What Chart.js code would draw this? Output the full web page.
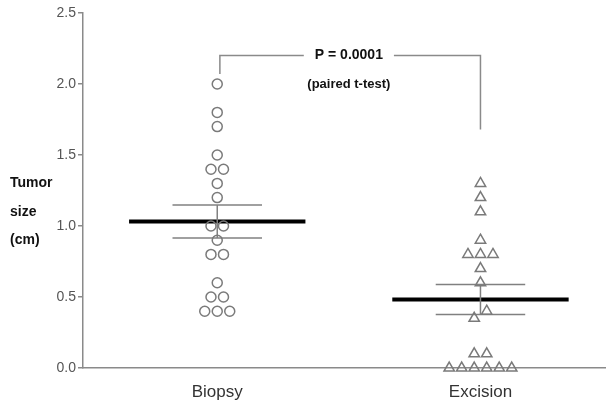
<!DOCTYPE html>
<html>
<head>
<meta charset="utf-8">
<script src="https://cdn.jsdelivr.net/npm/chart.js@4.4.1/dist/chart.umd.min.js"></script>
<style>
html, body { margin: 0; padding: 0; background: #fff; }
#wrap { width: 613px; height: 407px; }
</style>
</head>
<body>
<div id="wrap"><canvas id="tumorChart"></canvas></div>
<script>
// data
const groups = ['Biopsy', 'Excision'];
const groupPos = [1, 3];
const biopsy = [2.0, 1.8, 1.7, 1.5, 1.4, 1.4, 1.3, 1.2, 1.0, 1.0, 0.9, 0.8, 0.8, 0.6, 0.5, 0.5, 0.4, 0.4, 0.4];
const excision = [1.3, 1.2, 1.1, 0.9, 0.8, 0.8, 0.8, 0.7, 0.6, 0.4, 0.35, 0.1, 0.1, 0, 0, 0, 0, 0, 0];
const yTicks = [0, 0.5, 1.0, 1.5, 2.0, 2.5];
const yTitle = ['Tumor', 'size', '(cm)'];
const pText = 'P = 0.0001';
const testText = '(paired t-test)';

// spread points with (almost) equal values side by side
function spread(values, center) {
    const sorted = values.slice().sort((a, b) => b - a);
    const pts = [];
    let i = 0;
    while (i < sorted.length) {
        let j = i;
        while (j + 1 < sorted.length && sorted[i] - sorted[j + 1] < 0.06) j++;
        const n = j - i + 1;
        for (let k = 0; k < n; k++) {
            pts.push({ x: center + (k - (n - 1) / 2) * 0.095, y: sorted[j - k] });
        }
        i = j + 1;
    }
    return pts;
}

function meanSem(v) {
    const m = v.reduce((a, b) => a + b, 0) / v.length;
    const sd = Math.sqrt(v.reduce((a, b) => a + (b - m) ** 2, 0) / (v.length - 1));
    return [m, sd / Math.sqrt(v.length)];
}

function hLine(c, half, yv, color, width) {
    return { type: 'line', data: [{ x: c - half, y: yv }, { x: c + half, y: yv }],
        borderColor: color, borderWidth: width, pointRadius: 0, showLine: true, fill: false };
}

const statSets = [];
[biopsy, excision].forEach((vals, i) => {
    const c = groupPos[i];
    const [m, sem] = meanSem(vals);
    statSets.push(hLine(c, 0.34, m + sem, '#808080', 1.5));
    statSets.push(hLine(c, 0.34, m - sem, '#808080', 1.5));
    statSets.push({ type: 'line', data: [{ x: c, y: m - sem }, { x: c, y: m + sem }],
        borderColor: '#808080', borderWidth: 1.5, pointRadius: 0, showLine: true, fill: false });
    statSets.push(hLine(c, 0.67, m, '#000', 4));
});

const annotate = {
    id: 'annotate',
    afterDraw(chart) {
        const { ctx, scales: { x, y } } = chart;
        ctx.save();
        // y axis title, horizontal
        ctx.fillStyle = '#111';
        ctx.font = 'bold 14px "Liberation Sans", Arial, sans-serif';
        ctx.textAlign = 'left';
        ctx.textBaseline = 'middle';
        yTitle.forEach((t, i) => ctx.fillText(t, 10, y.getPixelForValue(1.1) + (i - 1) * 28.5));

        // bracket with p value
        const xl = x.getPixelForValue(groupPos[0] + 0.02);
        const xr = x.getPixelForValue(groupPos[1]);
        const xm = x.getPixelForValue((groupPos[0] + groupPos[1]) / 2);
        const yb = y.getPixelForValue(2.2);
        ctx.font = 'bold 14px "Liberation Sans", Arial, sans-serif';
        const gap = ctx.measureText(pText).width / 2 + 11;
        ctx.strokeStyle = '#8a8a8a';
        ctx.lineWidth = 1.5;
        ctx.beginPath();
        ctx.moveTo(xl, y.getPixelForValue(2.07));
        ctx.lineTo(xl, yb);
        ctx.lineTo(xm - gap, yb);
        ctx.moveTo(xm + gap, yb);
        ctx.lineTo(xr, yb);
        ctx.lineTo(xr, y.getPixelForValue(1.68));
        ctx.stroke();
        ctx.textAlign = 'center';
        ctx.fillText(pText, xm, yb);
        ctx.font = 'bold 13px "Liberation Sans", Arial, sans-serif';
        ctx.fillText(testText, xm, y.getPixelForValue(2.0));
        ctx.restore();
    }
};

const ctx = document.getElementById('tumorChart').getContext('2d');
new Chart(ctx, {
    type: 'scatter',
    data: {
        datasets: [
            {
                label: groups[0],
                data: spread(biopsy, groupPos[0]),
                pointStyle: 'circle',
                pointRadius: 5,
                borderColor: '#7a7a7a',
                borderWidth: 1.5,
                backgroundColor: 'rgba(255,255,255,0)',
                clip: false
            },
            {
                label: groups[1],
                data: spread(excision, groupPos[1]),
                pointStyle: 'triangle',
                pointRadius: 6,
                borderColor: '#7a7a7a',
                borderWidth: 1.5,
                backgroundColor: 'rgba(255,255,255,0)',
                clip: false
            }
        ].concat(statSets)
    },
    options: {
        responsive: true,
        maintainAspectRatio: false,
        animation: false,
        layout: { padding: { top: 13, right: 3, left: 0, bottom: 0 } },
        plugins: { legend: { display: false }, tooltip: { enabled: false } },
        scales: {
            x: {
                type: 'linear',
                min: -0.02,
                max: 3.95,
                afterBuildTicks: s => { s.ticks = groupPos.map(v => ({ value: v })); },
                afterFit: s => { s.height = 39; },
                ticks: {
                    callback: (v, i) => groups[i],
                    color: '#333',
                    font: { size: 17, family: '"Liberation Sans", Arial, sans-serif' },
                    padding: 14
                },
                grid: { drawOnChartArea: false, drawTicks: false },
                border: { color: '#8a8a8a', width: 1.5 }
            },
            y: {
                min: 0,
                max: 2.5,
                afterBuildTicks: s => { s.ticks = yTicks.map(v => ({ value: v })); },
                afterFit: s => { s.width = 83; },
                ticks: {
                    callback: v => v.toFixed(1),
                    color: '#555',
                    font: { size: 14, family: '"Liberation Sans", Arial, sans-serif' },
                    padding: 2
                },
                grid: { drawOnChartArea: false, tickLength: 5, color: '#8a8a8a', lineWidth: 1.5 },
                border: { color: '#8a8a8a', width: 1.5 }
            }
        }
    },
    plugins: [annotate]
});
</script>
</body>
</html>
